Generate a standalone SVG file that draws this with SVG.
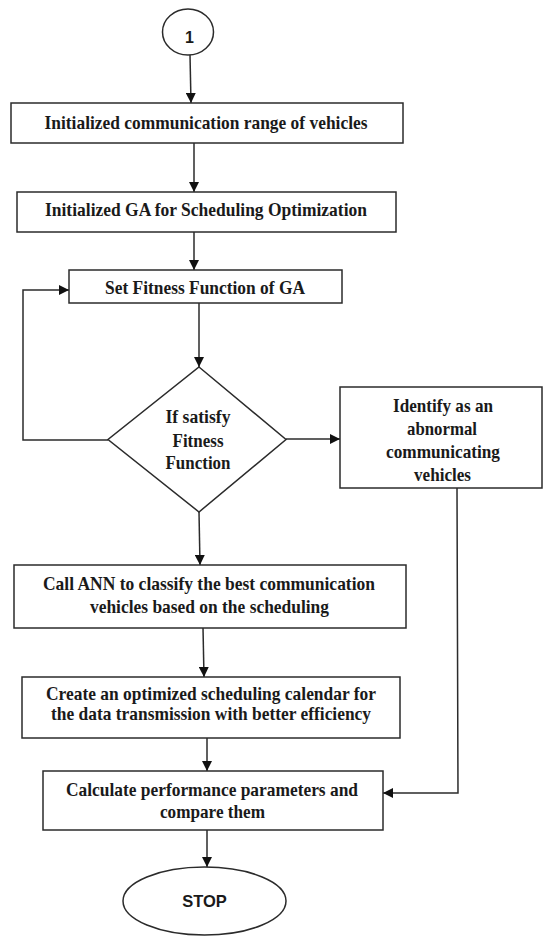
<svg xmlns="http://www.w3.org/2000/svg" width="544" height="936" viewBox="0 0 544 936">
  <style>
    .box { fill: #ffffff; stroke: #2b2b2b; stroke-width: 1.5; }
    .lbl { font-family: "Liberation Serif", "Times New Roman", serif; font-weight: bold; font-size: 19px; fill: #1a1a1a; text-anchor: middle; }
    .dlbl { font-size: 18px; }
    .term { font-family: "Liberation Sans", Arial, sans-serif; font-weight: bold; fill: #1a1a1a; text-anchor: middle; }
    .conn { fill: none; stroke: #2b2b2b; stroke-width: 1.5; marker-end: url(#arrow); }
  </style>
  <defs>
    <marker id="arrow" viewBox="0 0 10 10" refX="10" refY="5" markerWidth="10" markerHeight="10" markerUnits="userSpaceOnUse" orient="auto">
      <path d="M0,0 L10,5 L0,10 Z" fill="#111111"/>
    </marker>
  </defs>
  <rect width="544" height="936" fill="#ffffff"/>

  <!-- connectors -->
  <g id="connectors">
    <path class="conn" d="M190,55 L191,103"/>
    <path class="conn" d="M194,143 L194,192"/>
    <path class="conn" d="M194,232 L194,270"/>
    <path class="conn" d="M199,303 L199,367"/>
    <path class="conn" d="M108,440 L23,440 L23,290 L69,290"/>
    <path class="conn" d="M286,439 L340,439"/>
    <path class="conn" d="M199,512 L200,565"/>
    <path class="conn" d="M203,628 L204,677"/>
    <path class="conn" d="M207,738 L207,771"/>
    <path class="conn" d="M207,830 L207,867"/>
    <path class="conn" d="M457,488 L458,793 L383,793"/>
  </g>

  <g id="start">
    <ellipse class="box" cx="188" cy="32" rx="25.5" ry="23"/>
    <text class="term" x="189.5" y="42.5" font-size="16">1</text>
  </g>

  <g id="init-range">
    <rect class="box" x="11" y="103" width="392" height="40"/>
    <text class="lbl" x="206" y="129" textLength="323" lengthAdjust="spacingAndGlyphs">Initialized communication range of vehicles</text>
  </g>

  <g id="init-ga">
    <rect class="box" x="17" y="192" width="379" height="40"/>
    <text class="lbl" x="206" y="216" textLength="322" lengthAdjust="spacingAndGlyphs">Initialized GA for Scheduling Optimization</text>
  </g>

  <g id="fitness">
    <rect class="box" x="69" y="270" width="273" height="33"/>
    <text class="lbl" x="205" y="294" textLength="200" lengthAdjust="spacingAndGlyphs">Set Fitness Function of GA</text>
  </g>

  <g id="decision">
    <polygon class="box" points="199,367 286,439.5 199,512 108,439.5"/>
    <text class="lbl dlbl" x="198" y="423" textLength="65" lengthAdjust="spacingAndGlyphs">If satisfy</text>
    <text class="lbl dlbl" x="198" y="446.5" textLength="51" lengthAdjust="spacingAndGlyphs">Fitness</text>
    <text class="lbl dlbl" x="198" y="468.5" textLength="65" lengthAdjust="spacingAndGlyphs">Function</text>
  </g>

  <g id="abnormal">
    <rect class="box" x="340" y="387" width="202" height="101"/>
    <text class="lbl" x="443" y="412" textLength="100" lengthAdjust="spacingAndGlyphs">Identify as an</text>
    <text class="lbl" x="442" y="435" textLength="70" lengthAdjust="spacingAndGlyphs">abnormal</text>
    <text class="lbl" x="443" y="458" textLength="114" lengthAdjust="spacingAndGlyphs">communicating</text>
    <text class="lbl" x="442.5" y="481" textLength="57" lengthAdjust="spacingAndGlyphs">vehicles</text>
  </g>

  <g id="ann">
    <rect class="box" x="14" y="565" width="392" height="63"/>
    <text class="lbl" x="209" y="590" textLength="332" lengthAdjust="spacingAndGlyphs">Call ANN to classify the best communication</text>
    <text class="lbl" x="209.5" y="613" textLength="239" lengthAdjust="spacingAndGlyphs">vehicles based on the scheduling</text>
  </g>

  <g id="calendar">
    <rect class="box" x="22" y="677" width="378" height="61"/>
    <text class="lbl" x="211" y="700" textLength="330" lengthAdjust="spacingAndGlyphs">Create an optimized scheduling calendar for</text>
    <text class="lbl" x="211" y="720" textLength="320" lengthAdjust="spacingAndGlyphs">the data transmission with better efficiency</text>
  </g>

  <g id="performance">
    <rect class="box" x="43" y="771" width="340" height="59"/>
    <text class="lbl" x="212" y="796" textLength="292" lengthAdjust="spacingAndGlyphs">Calculate performance parameters and</text>
    <text class="lbl" x="212.5" y="818" textLength="105" lengthAdjust="spacingAndGlyphs">compare them</text>
  </g>

  <g id="stop">
    <ellipse class="box" cx="204.5" cy="901" rx="81.5" ry="34"/>
    <text class="term" x="204.5" y="907" font-size="16.5">STOP</text>
  </g>
</svg>
